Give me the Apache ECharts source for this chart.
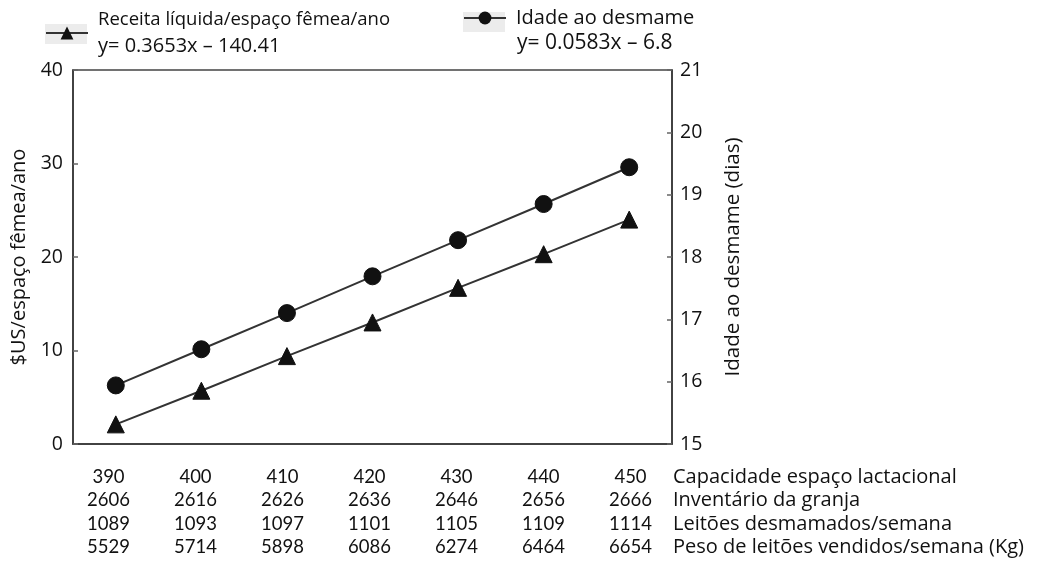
<!DOCTYPE html>
<html>
<head>
<meta charset="utf-8">
<script src="https://cdn.jsdelivr.net/npm/echarts@6/dist/echarts.min.js"></script>
<style>html,body{margin:0;padding:0;background:#fff;}#c{width:1037px;height:570px;}</style>
</head>
<body>
<div id="c"></div>
<script>
// Data
var capacidade = ['390', '400', '410', '420', '430', '440', '450'];
var inventario = ['2606', '2616', '2626', '2636', '2646', '2656', '2666'];
var leitoes = ['1089', '1093', '1097', '1101', '1105', '1109', '1114'];
var peso = ['5529', '5714', '5898', '6086', '6274', '6464', '6654'];
var rowTitles = ['Capacidade espaço lactacional', 'Inventário da granja', 'Leitões desmamados/semana', 'Peso de leitões vendidos/semana (Kg)'];
var receita = [2.1, 5.7, 9.4, 13.0, 16.7, 20.3, 24.0];
var idade = [15.94, 16.52, 17.1, 17.69, 18.27, 18.85, 19.44];
var leftTicks = {min: 0, max: 40, interval: 10};
var rightTicks = {min: 15, max: 21, interval: 1};
var serie1Name = 'Receita líquida/espaço fêmea/ano';
var serie2Name = 'Idade ao desmame';
var eq1 = 'y= 0.3653x \u2013 140.41';
var eq2 = 'y= 0.0583x \u2013 6.8';

var NUMFONT = 'Lato';
var FONT = 'Open Sans';
var chart = echarts.init(document.getElementById('c'), null, {renderer: 'canvas'});
var option = {
  backgroundColor: '#fff',
  textStyle: {fontFamily: FONT},
  animation: false,
  title: {
    text: rowTitles.join('\n'),
    left: 673, top: 465,
    padding: 0,
    textStyle: {fontFamily: FONT, fontSize: 20, fontWeight: 'normal', color: '#111', lineHeight: 23.6}
  },
  graphic: [
    {type: 'rect', left: 45, top: 24, shape: {width: 42, height: 20}, style: {fill: '#ececec'}, z: -1},
    {type: 'rect', left: 463, top: 12, shape: {width: 42, height: 20}, style: {fill: '#ececec'}, z: -1},
    {type: 'text', left: 517, top: 33, style: {text: eq2, font: '21px "' + FONT + '"', fill: '#111'}}
  ],
  legend: [
    {
      data: [serie1Name], left: 45, top: 6, padding: 0,
      itemWidth: 42, itemHeight: 16,
      formatter: function (n) { return '{a|' + n + '}\n{b|' + eq1 + '}'; },
      textStyle: {
        fontFamily: FONT, fontSize: 18.5, color: '#111', lineHeight: 27, padding: [0, 0, 0, 5],
        rich: {
          a: {fontFamily: FONT, fontSize: 18.5, color: '#111', lineHeight: 27},
          b: {fontFamily: FONT, fontSize: 20, color: '#111', lineHeight: 27}
        }
      }
    },
    {
      data: [serie2Name], left: 463, top: 8, padding: 0,
      itemWidth: 42, itemHeight: 16,
      textStyle: {fontFamily: FONT, fontSize: 20, color: '#111', padding: [0, 0, 0, 5]}
    }
  ],
  grid: [
    {left: 73, right: 365, top: 70, bottom: 126, show: true, borderColor: '#444', borderWidth: 1.5},
    {left: 65, width: 609, top: 455, height: 1, show: false}
  ],
  xAxis: [
    {
      type: 'category', gridIndex: 0, data: capacidade, boundaryGap: true,
      axisLine: {lineStyle: {color: '#333', width: 1.5}},
      axisTick: {inside: true, length: 6, lineStyle: {color: '#555', width: 1.5}},
      axisLabel: {show: false}
    },
    {
      type: 'category', gridIndex: 1, data: capacidade, boundaryGap: true, position: 'bottom',
      axisLine: {show: false}, axisTick: {show: false},
      axisLabel: {
        margin: 9, fontFamily: NUMFONT, fontSize: 18.5, color: '#111', lineHeight: 23.5, interval: 0,
        formatter: function (v, i) { return capacidade[i] + '\n' + inventario[i] + '\n' + leitoes[i] + '\n' + peso[i]; }
      }
    }
  ],
  yAxis: [
    {
      type: 'value', gridIndex: 0, position: 'left',
      min: leftTicks.min, max: leftTicks.max, interval: leftTicks.interval,
      name: '$US/espaço fêmea/ano', nameLocation: 'middle', nameGap: 44, nameRotate: 90,
      nameTextStyle: {fontFamily: FONT, fontSize: 20, color: '#111'},
      axisLine: {show: true, lineStyle: {color: '#333', width: 1.5}},
      axisTick: {show: true, inside: true, length: 5, lineStyle: {color: '#666', width: 1.5}},
      axisLabel: {margin: 10, fontFamily: FONT, fontSize: 19.5, color: '#111'},
      splitLine: {show: false}
    },
    {
      type: 'value', gridIndex: 0, position: 'right',
      min: rightTicks.min, max: rightTicks.max, interval: rightTicks.interval,
      name: 'Idade ao desmame (dias)', nameLocation: 'middle', nameGap: 51, nameRotate: 90,
      nameTextStyle: {fontFamily: FONT, fontSize: 20.5, color: '#111'},
      axisLine: {show: true, lineStyle: {color: '#333', width: 1.5}},
      axisTick: {show: true, inside: true, length: 5, lineStyle: {color: '#666', width: 1.5}},
      axisLabel: {margin: 8, fontFamily: FONT, fontSize: 19.5, color: '#111'},
      splitLine: {show: false}
    },
    {type: 'value', gridIndex: 1, show: false}
  ],
  series: [
    {
      name: serie1Name, type: 'line', xAxisIndex: 0, yAxisIndex: 0, data: receita,
      symbol: 'triangle', symbolSize: 17,
      lineStyle: {color: '#333', width: 2},
      itemStyle: {color: '#111', borderColor: '#111'}
    },
    {
      name: serie2Name, type: 'line', xAxisIndex: 0, yAxisIndex: 1, data: idade,
      symbol: 'circle', symbolSize: 17,
      lineStyle: {color: '#333', width: 2},
      itemStyle: {color: '#111', borderColor: '#111'}
    }
  ]
};
chart.setOption(option);
</script>
</body>
</html>
